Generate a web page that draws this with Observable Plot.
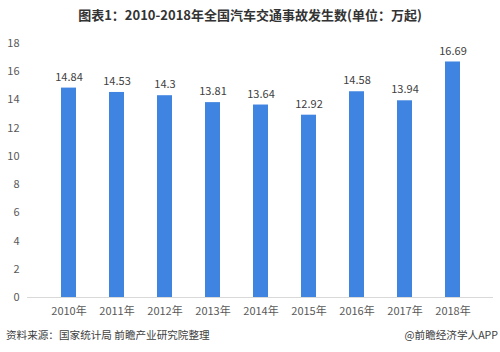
<!DOCTYPE html>
<html><head><meta charset="utf-8">
<script src="https://cdn.jsdelivr.net/npm/d3@7"></script>
<script src="https://cdn.jsdelivr.net/npm/@observablehq/plot@0.6"></script>
<style>
body{margin:0;background:#fff;font-family:"Noto Sans CJK SC","Noto Sans",sans-serif;width:500px;height:352px;overflow:hidden;position:relative}
#title{height:30px;line-height:30px;text-align:center;font-size:13px;font-weight:bold;color:#333;}
#foot{position:absolute;top:327px;left:6px;right:2px;font-size:10.6px;color:#404040;display:flex;justify-content:space-between}
</style></head><body>
<div id="title">图表1：2010-2018年全国汽车交通事故发生数(单位：万起)</div>
<div id="chart"></div>
<div id="foot"><span>资料来源：国家统计局 前瞻产业研究院整理</span><span>@前瞻经济学人APP</span></div>
<script>
const years = ["2010年","2011年","2012年","2013年","2014年","2015年","2016年","2017年","2018年"];
const values = [14.84,14.53,14.3,13.81,13.64,12.92,14.58,13.94,16.69];
const yTicks = [0,2,4,6,8,10,12,14,16,18];
const data = years.map((y,i)=>({year:y,value:values[i]}));
const chart = Plot.plot({
  width:500, height:292,
  marginTop:13, marginBottom:25, marginLeft:27, marginRight:7,
  style:{fontFamily:"'Noto Sans CJK SC','Noto Sans',sans-serif",fontSize:"11px",color:"#595959",background:"#fff"},
  x:{domain:years, padding:0.69, label:null, tickSize:0, tickPadding:10},
  y:{domain:[0,18], ticks:yTicks, label:null, tickSize:0, tickPadding:8},
  marks:[
    Plot.barY(data,{x:"year",y:"value",fill:"#3f84e0"}),
    Plot.ruleY([0],{stroke:"#d9d9d9",strokeWidth:1}),
    Plot.text(data,{x:"year",y:"value",text:d=>String(d.value),dy:-11,fill:"#404040",fontSize:11})
  ]
});
document.getElementById("chart").appendChild(chart);
</script>
</body></html>
